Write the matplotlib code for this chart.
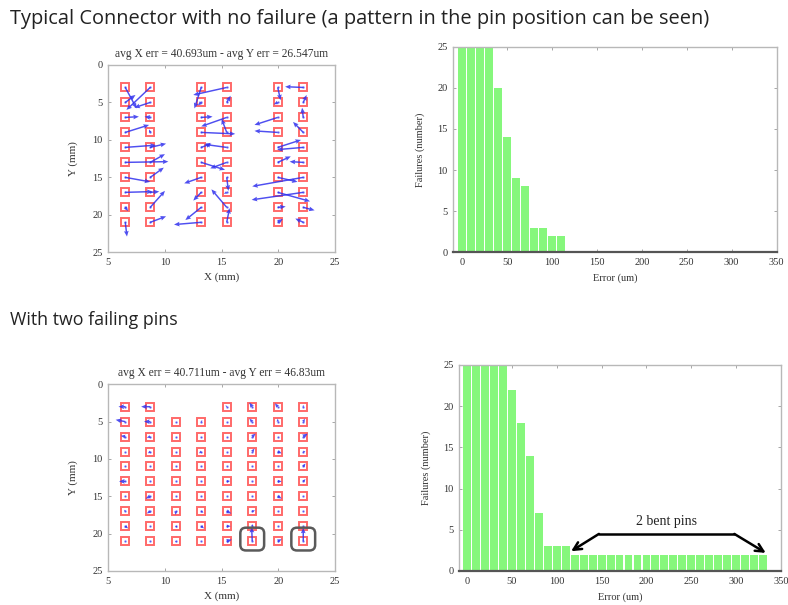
import numpy as np
import matplotlib
matplotlib.use('Agg')
import matplotlib.pyplot as plt
from matplotlib.patches import FancyBboxPatch

plt.rcParams['font.family'] = ['Liberation Serif', 'DejaVu Serif']

# ---------------- data ----------------
# top: pin error vectors (pin x, pin y, measured x, measured y), magnified
top_pin_cols = [6.5, 8.7, 13.2, 15.45, 19.95, 22.2]
top_pin_rows = [3, 5, 7, 9, 11, 13, 15, 17, 19, 21]
top_arrows = [
    (6.5, 3, 7.5, 5.8), (8.7, 3, 6.6, 6.0), (6.5, 5, 7.4, 4.0), (8.7, 5, 7.3, 5.7),
    (6.5, 7, 7.7, 6.9), (8.7, 7, 8.2, 6.9), (6.5, 9, 8.6, 8.0), (8.7, 9, 8.6, 8.6),
    (6.5, 11, 9.2, 10.7), (8.7, 11, 10.1, 10.5), (6.5, 13, 10.3, 12.9), (8.7, 13, 10.0, 11.9),
    (6.5, 15, 8.7, 15.6), (8.7, 15, 9.9, 13.7), (6.5, 17, 8.9, 16.9), (8.7, 17, 9.5, 16.9),
    (6.5, 19, 6.75, 19.5), (8.7, 19, 10.0, 16.8), (6.5, 21, 6.65, 22.9), (8.7, 21, 10.1, 20.2),
    (13.2, 3, 12.6, 5.8), (15.45, 3, 12.5, 4.0), (13.2, 5, 12.9, 5.4), (15.45, 5, 15.8, 4.1),
    (13.2, 7, 14.2, 6.9), (15.45, 7, 13.2, 8.2), (13.2, 9, 16.2, 9.2), (15.45, 9, 15.0, 7.2),
    (13.2, 11, 14.1, 10.5), (15.45, 11, 13.5, 10.6), (13.2, 13, 15.3, 14.0), (15.45, 13, 14.0, 13.8),
    (13.2, 15, 11.7, 15.8), (15.45, 15, 15.6, 16.8), (13.2, 17, 12.5, 18.1), (15.45, 17, 15.2, 17.2),
    (13.2, 19, 11.8, 20.7), (15.45, 19, 14.1, 16.6), (13.2, 21, 10.8, 21.3), (15.45, 21, 15.7, 19.1),
    (19.95, 3, 20.2, 4.7), (22.2, 3, 20.6, 2.9), (19.95, 5, 19.6, 5.25), (22.2, 5, 22.5, 4.0),
    (19.95, 7, 17.9, 8.0), (22.2, 7, 22.1, 5.7), (19.95, 9, 17.9, 8.8), (22.2, 9, 21.3, 7.6),
    (19.95, 11, 22.0, 10.0), (22.2, 11, 19.9, 11.3), (19.95, 13, 21.1, 12.2), (22.2, 13, 21.0, 12.9),
    (19.95, 15, 21.7, 15.6), (22.2, 15, 17.7, 16.2), (19.95, 17, 22.8, 18.2), (22.2, 17, 17.65, 18.0),
    (19.95, 19, 20.65, 18.9), (22.2, 19, 23.2, 19.4), (19.95, 21, 20.4, 20.55), (22.2, 21, 21.5, 20.5),
]
top_title = 'avg X err = 40.693um - avg Y err = 26.547um'

# bottom: 8 columns, row 3 misses columns 3 and 4
bot_pin_cols = [6.5, 8.7, 10.95, 13.2, 15.45, 17.7, 19.95, 22.2]
bot_pin_rows = [3, 5, 7, 9, 11, 13, 15, 17, 19, 21]
bot_missing = [(10.95, 3), (13.2, 3)]
bot_arrows = [
    (6.5, 3, 5.9, 3.0), (8.7, 3, 7.9, 3.0), (6.5, 5, 5.65, 4.75), (8.7, 5, 8.15, 5.0),
    (6.5, 7, 6.1, 6.9), (8.7, 7, 8.4, 7.15), (8.7, 9, 8.5, 9.25), (13.2, 9, 13.0, 9.25),
    (6.5, 13, 5.95, 13.0), (8.7, 15, 8.3, 15.3), (8.7, 17, 8.4, 17.3), (10.95, 17, 10.95, 17.5),
    (6.5, 19, 6.75, 19.3), (13.2, 19, 13.45, 19.3), (10.95, 19, 11.1, 19.2), (10.95, 21, 11.0, 21.2),
    (13.2, 17, 13.4, 17.2), (6.5, 17, 6.4, 16.8), (13.2, 5, 13.3, 4.8),
    (15.45, 3, 15.35, 2.8), (17.7, 3, 17.45, 2.45), (19.95, 3, 19.7, 2.55), (22.2, 3, 22.2, 2.75),
    (17.7, 5, 17.45, 4.6), (19.95, 5, 19.95, 4.6), (22.2, 5, 22.35, 4.6),
    (17.7, 7, 18.0, 6.6), (22.2, 7, 22.6, 6.6), (17.7, 9, 17.9, 8.6), (19.95, 9, 20.3, 9.25),
    (22.2, 9, 22.4, 9.0), (22.2, 11, 22.4, 10.6), (15.45, 13, 15.75, 12.95), (19.95, 13, 20.3, 13.0),
    (22.2, 13, 22.4, 12.7), (19.95, 15, 20.3, 15.3), (15.45, 17, 15.85, 17.3), (17.7, 17, 17.95, 16.9),
    (15.45, 19, 15.8, 19.0), (15.45, 21, 15.9, 20.8), (19.95, 21, 20.3, 20.75), (17.7, 19, 17.7, 18.7),
    (17.7, 21, 17.65, 19.1), (22.2, 21, 22.2, 19.2),
]
bot_title = 'avg X err = 40.711um - avg Y err = 46.83um'
bent_pins = [(17.7, 21), (22.2, 21)]

# histograms (bin centres, counts); first bars run off the top of the scale
top_err = [0, 10, 20, 30, 40, 50, 60, 70, 80, 90, 100, 110]
top_fail = [31, 37, 34, 27, 20, 14, 9, 8, 3, 3, 2, 2]
bot_err = [0, 10, 20, 30, 40, 50, 60, 70, 80, 90, 100, 110, 120, 130, 140, 150, 160,
           170, 180, 190, 200, 210, 220, 230, 240, 250, 260, 270, 280, 290, 300, 310, 320, 330]
bot_fail = [30, 35, 36, 31, 27, 22, 18, 14, 7, 3, 3, 3, 2, 2, 2, 2, 2,
            2, 2, 2, 2, 2, 2, 2, 2, 2, 2, 2, 2, 2, 2, 2, 2, 2]

SPINE = '#b8b8b8'
TXT = '#333333'
SQ = '#ff5a5a'
BLUE = '#3030ee'
GREEN = '#86f77c'

fig = plt.figure(figsize=(7.88, 6.05), dpi=100)
fig.text(0.013, 0.968, 'Typical Connector with no failure (a pattern in the pin position can be seen)',
         family=['Open Sans', 'DejaVu Sans'], fontsize=14.4, color='#222222', va='center')
fig.text(0.013, 0.471, 'With two failing pins',
         family=['Open Sans', 'DejaVu Sans'], fontsize=12.8, color='#222222', va='center')


def style(ax, bottom_dark=False):
    for s in ax.spines.values():
        s.set_color(SPINE)
        s.set_linewidth(1.0)
    if bottom_dark:
        ax.spines['bottom'].set_color('#555555')
        ax.spines['bottom'].set_linewidth(1.6)
    ax.tick_params(direction='in', length=2.5, width=0.6, color='#999999',
                   top=True, right=True, labelsize=7.5, labelcolor=TXT, pad=4)


def pin_map(ax, cols, rows, missing, arrows, title):
    pins = [(x, y) for x in cols for y in rows if (x, y) not in missing]
    px = [p[0] for p in pins]
    py = [p[1] for p in pins]
    ax.plot(px, py, 's', mfc='none', mec=SQ, ms=6.4, mew=1.4, alpha=0.9, zorder=2)
    ax.plot(px, py, '.', color=BLUE, ms=1.5, alpha=0.6, zorder=3)
    a = np.array(arrows, dtype=float)
    ax.quiver(a[:, 0], a[:, 1], a[:, 2] - a[:, 0], a[:, 3] - a[:, 1],
              angles='xy', scale_units='xy', scale=1, color=BLUE, alpha=0.85,
              width=0.0065, headwidth=3.2, headlength=3.8, headaxislength=3.4, zorder=4)
    ax.set_xlim(5, 25)
    ax.set_ylim(25, 0)
    ax.set_xticks([5, 10, 15, 20, 25])
    ax.set_yticks([0, 5, 10, 15, 20, 25])
    ax.set_xlabel('X (mm)', fontsize=8, color=TXT, labelpad=4)
    ax.set_ylabel('Y (mm)', fontsize=8, color=TXT, labelpad=10)
    ax.set_title(title, fontsize=8.3, color=TXT, pad=6)
    style(ax)


def hist(ax, err, fail, xmin):
    ax.bar(err, fail, width=8.8, color=GREEN, edgecolor='none', zorder=2)
    ax.set_xlim(xmin, 350)
    ax.set_ylim(0, 25)
    ax.set_xticks([0, 50, 100, 150, 200, 250, 300, 350])
    ax.set_yticks([0, 5, 10, 15, 20, 25])
    ax.set_xlabel('Error (um)', fontsize=7.5, color=TXT, labelpad=5)
    ax.set_ylabel('Failures (number)', fontsize=7.5, color=TXT, labelpad=9)
    style(ax, bottom_dark=True)


ax1 = fig.add_axes([0.1374, 0.583, 0.2877, 0.3096])
pin_map(ax1, top_pin_cols, top_pin_rows, [], top_arrows, top_title)

ax2 = fig.add_axes([0.5753, 0.583, 0.4102, 0.3398])
hist(ax2, top_err, top_fail, -10)

ax3 = fig.add_axes([0.1374, 0.0562, 0.2877, 0.3086])
pin_map(ax3, bot_pin_cols, bot_pin_rows, bot_missing, bot_arrows, bot_title)
for bx, by in bent_pins:
    ax3.add_patch(FancyBboxPatch((bx - 1.05, by - 1.8), 2.1, 3.05,
                                 boxstyle='round,pad=0,rounding_size=0.5',
                                 mutation_aspect=1.5, fc='none', ec='#5a5a5a', lw=1.8, zorder=5))

ax4 = fig.add_axes([0.5825, 0.0562, 0.4086, 0.3405])
hist(ax4, bot_err, bot_fail, -9)
ax4.text(222, 6.0, '2 bent pins', ha='center', va='center', fontsize=10, color='#222222')
ax4.plot([147, 298], [4.5, 4.5], color='black', lw=1.8, solid_capstyle='round', zorder=5)
ax4.annotate('', xy=(116, 2.4), xytext=(147, 4.5),
             arrowprops=dict(arrowstyle='->', color='black', lw=1.8, shrinkA=0, shrinkB=0,
                             mutation_scale=14), zorder=5)
ax4.annotate('', xy=(333, 2.2), xytext=(298, 4.5),
             arrowprops=dict(arrowstyle='->', color='black', lw=1.8, shrinkA=0, shrinkB=0,
                             mutation_scale=14), zorder=5)

fig.savefig('out.png', dpi=100)
